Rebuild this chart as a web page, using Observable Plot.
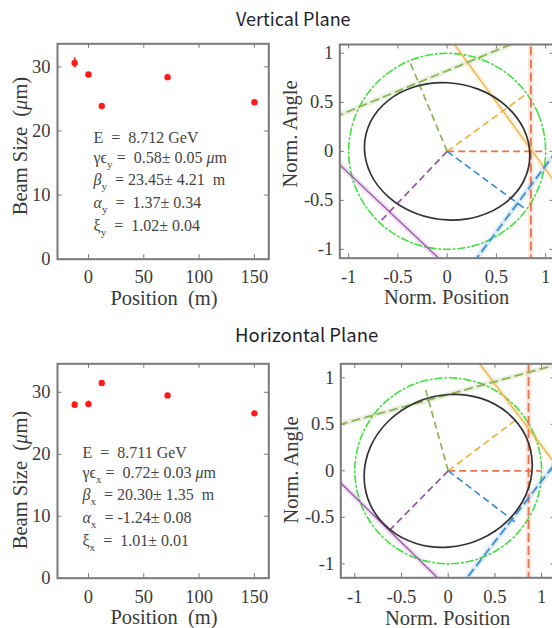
<!DOCTYPE html>
<html><head><meta charset="utf-8">
<script src="https://cdn.jsdelivr.net/npm/d3@7"></script>
<script src="https://cdn.jsdelivr.net/npm/@observablehq/plot@0.6"></script>
<style>
html,body{margin:0;padding:0;background:#fff;}
#page{position:relative;width:552px;height:628px;overflow:hidden;background:#fff;}
</style></head><body><div id="page"></div><script>
// ---------- data ----------
const titles = ["Vertical Plane", "Horizontal Plane"];
const positions = [-12.5, 0, 12, 71.5, 150];            // screen position (m)
const vSizes = [30.6, 28.8, 23.9, 28.4, 24.5];          // vertical beam size (µm)
const vErrs  = [0.8, 0.3, 0.3, 0.4, 0.25];
const hSizes = [28.0, 28.1, 31.5, 29.5, 26.6];          // horizontal beam size (µm)
const hErrs  = [0.5, 0.5, 0.4, 0.3, 0.2];
const posTicks = [0, 50, 100, 150];
const sizeTicks = [0, 10, 20, 30];
const normTicks = [-1, -0.5, 0, 0.5, 1];

const vAnnot = [
  [["E  =  8.712 GeV"]],
  [["γϵ"], ["y", "s"], [" =  0.58± 0.05 "], ["μ", "i"], ["m"]],
  [["β", "i"], ["y", "s"], ["  = 23.45± 4.21  m"]],
  [["α", "i"], ["y", "s"], ["  =  1.37± 0.34"]],
  [["ξ"], ["y", "s"], ["  =  1.02± 0.04"]]
];
const hAnnot = [
  [["E  =  8.711 GeV"]],
  [["γϵ"], ["x", "s"], [" =  0.72± 0.03 "], ["μ", "i"], ["m"]],
  [["β", "i"], ["x", "s"], ["  = 20.30± 1.35  m"]],
  [["α", "i"], ["x", "s"], ["  = -1.24± 0.08"]],
  [["ξ"], ["x", "s"], ["  =  1.01± 0.01"]]
];

// phase space: screens (red, orange, green, blue, purple)
const screenColors = ["#e5744e", "#f0b23e", "#8db356", "#3b8dd4", "#9a52a8"];
const screenDashed = [true, false, true, true, false];
const vPhase  = [0, 36, 112.5, -36.5, 226.5];   // deg
const vBeam   = [0.85, 0.70, 0.76, 0.89, 0.85]; // normalized beam size
const vRadial = [1.0, 1.0, 1.0, 1.0, 0.99];
const hPhase  = [0, 37, 105.5, -37.5, 225.5];
const hBeam   = [0.86, 0.96, 0.79, 0.86, 0.90];
const hRadial = [1.0, 0.9, 0.92, 0.91, 0.9];

const vEllX = [0.84, 0.776, 0.594, 0.321, 0, -0.321, -0.594, -0.776, -0.84, -0.776, -0.594, -0.321, 0, 0.321, 0.594, 0.776];
const vEllY = [-0.04, 0.231, 0.467, 0.632, 0.70, 0.662, 0.523, 0.305, 0.04, -0.231, -0.467, -0.632, -0.70, -0.662, -0.523, -0.305];
const hEllX = [0.90, 0.832, 0.636, 0.344, 0, -0.344, -0.636, -0.832, -0.90, -0.832, -0.636, -0.344, 0, 0.344, 0.636, 0.832];
const hEllY = [0.06, 0.369, 0.622, 0.781, 0.82, 0.735, 0.538, 0.259, -0.06, -0.369, -0.622, -0.781, -0.82, -0.735, -0.538, -0.259];
// unit (design) circle
const circX = [1, 0.924, 0.707, 0.383, 0, -0.383, -0.707, -0.924, -1, -0.924, -0.707, -0.383, 0, 0.383, 0.707, 0.924];
const circY = [0, 0.383, 0.707, 0.924, 1, 0.924, 0.707, 0.383, 0, -0.383, -0.707, -0.924, -1, -0.924, -0.707, -0.383];

// ---------- helpers ----------
const serif = "'Liberation Serif','Times New Roman',serif";
const page = document.getElementById("page");
function place(node, left, top) {
  node.style.position = "absolute"; node.style.left = left + "px"; node.style.top = top + "px";
  page.appendChild(node);
}
function richText(sel, x, y, pieces, {size = 16, anchor = "start", rotate = 0, fill = "#333", family = serif} = {}) {
  const t = sel.append("text").attr("x", x).attr("y", y)
    .attr("font-family", family).attr("font-size", size).attr("fill", fill)
    .attr("text-anchor", anchor).style("white-space", "pre");
  if (rotate) t.attr("transform", `rotate(${rotate},${x},${y})`);
  let shifted = false; const sh = size * 0.32;
  for (const [s, st = ""] of pieces) {
    const ts = t.append("tspan").text(s);
    if (st.includes("i")) ts.attr("font-style", "italic");
    const sub = st.includes("s");
    if (sub) ts.attr("font-size", size * 0.7);
    if (sub && !shifted) { ts.attr("dy", sh); shifted = true; }
    else if (!sub && shifted) { ts.attr("dy", -sh); shifted = false; }
  }
  return t;
}
const lineOffsets = [0, 20, 42, 65, 88];

function beamPlot({sizes, errs, yMax, height, mt, mb, tickPad, annot, annotAt, ylabelY, xlabelY}) {
  const width = 276, ml = 57, mr = 7.7;
  const fw = width - ml - mr, fh = height - mt - mb;
  const data = positions.map((p, i) => ({p, s: sizes[i], e: errs[i]}));
  const gray = "#7a7a7a";
  const plot = Plot.plot({
    width, height, marginLeft: ml, marginRight: mr, marginTop: mt, marginBottom: mb,
    x: {domain: [-28, 163]}, y: {domain: [0, yMax]},
    style: {fontFamily: serif, fontSize: "18.5px", color: "#3a3a3a", background: "none", overflow: "visible"},
    marks: [
      Plot.axisX({ticks: posTicks, tickSize: 0, tickPadding: tickPad, tickFormat: d => String(d), label: null, fontSize: 18.5}),
      Plot.axisY({ticks: sizeTicks, tickSize: 0, tickPadding: 7, tickFormat: d => String(d), label: null, fontSize: 18.5}),
      Plot.tickX(posTicks, {x: d => d, insetTop: fh - 4.5, stroke: gray}),
      Plot.tickX(posTicks, {x: d => d, insetBottom: fh - 4.5, stroke: gray}),
      Plot.tickY(sizeTicks, {y: d => d, insetRight: fw - 4.5, stroke: gray}),
      Plot.tickY(sizeTicks, {y: d => d, insetLeft: fw - 4.5, stroke: gray}),
      Plot.ruleX(data, {x: "p", y1: d => d.s - d.e, y2: d => d.s + d.e, stroke: "#ff1a1a", strokeWidth: 1.6}),
      Plot.dot(data, {x: "p", y: "s", r: 3.2, fill: "#ff1a1a"}),
      Plot.frame({stroke: gray, strokeWidth: 2})
    ]
  });
  const sel = d3.select(plot);
  const sx = plot.scale("x"), sy = plot.scale("y");
  annot.forEach((line, i) => richText(sel, sx.apply(annotAt[0]), sy.apply(annotAt[1]) + lineOffsets[i], line, {size: 16, fill: "#444"}));
  richText(sel, 27.2, ylabelY, [["Beam Size  ("], ["μ", "i"], ["m)"]], {size: 20.5, anchor: "middle", rotate: -90, fill: "#3a3a3a"});
  richText(sel, 164, xlabelY, [["Position  (m)"]], {size: 20.5, anchor: "middle", fill: "#3a3a3a"});
  return plot;
}

function phasePlot({phase, beam, radial, ellX, ellY, dom, height, mt, mb, ml, mr, tickPad, ylabelX, ylabelY, xlabelY}) {
  const width = 282;
  const fw = width - ml - mr, fh = height - mt - mb;
  const gray = "#7a7a7a";
  const circle = circX.map((x, i) => ({x, y: circY[i]}));
  const ell = ellX.map((x, i) => ({x, y: ellY[i]}));
  const marks = [
    Plot.axisX({ticks: normTicks, tickSize: 0, tickPadding: tickPad, tickFormat: d => String(d), label: null, fontSize: 18.5}),
    Plot.axisY({ticks: normTicks, tickSize: 0, tickPadding: 6.6, tickFormat: d => String(d), label: null, fontSize: 18.5}),
    Plot.tickX(normTicks, {x: d => d, insetTop: fh - 4.5, stroke: gray}),
    Plot.tickX(normTicks, {x: d => d, insetBottom: fh - 4.5, stroke: gray}),
    Plot.tickY(normTicks, {y: d => d, insetRight: fw - 4.5, stroke: gray}),
    Plot.tickY(normTicks, {y: d => d, insetLeft: fw - 4.5, stroke: gray}),
    Plot.line(circle, {x: "x", y: "y", curve: "catmull-rom-closed", stroke: "#3fe33f", strokeWidth: 1.6, strokeDasharray: "7,3,1.5,3"})
  ];
  phase.forEach((a, i) => {
    const r = a * Math.PI / 180, c = Math.cos(r), s = Math.sin(r), d = beam[i], L = radial[i];
    const color = screenColors[i];
    const seg = [{x1: d * c + 3 * s, y1: d * s - 3 * c, x2: d * c - 3 * s, y2: d * s + 3 * c}];
    const rad = [{x1: 0, y1: 0, x2: L * c, y2: L * s}];
    marks.push(
      Plot.link(rad, {x1: "x1", y1: "y1", x2: "x2", y2: "y2", stroke: color, strokeWidth: 1.7, strokeDasharray: "7,4", clip: true}),
      Plot.link(seg, {x1: "x1", y1: "y1", x2: "x2", y2: "y2", stroke: color, strokeWidth: 5.5, strokeOpacity: 0.17, clip: true}),
      Plot.link(seg, {x1: "x1", y1: "y1", x2: "x2", y2: "y2", stroke: color, strokeWidth: screenDashed[i] ? 1.8 : 1.3,
        strokeDasharray: screenDashed[i] ? "9,4" : null, clip: true})
    );
  });
  marks.push(
    Plot.line(ell, {x: "x", y: "y", curve: "catmull-rom-closed", stroke: "#333", strokeWidth: 1.7}),
    Plot.frame({stroke: gray, strokeWidth: 2})
  );
  const plot = Plot.plot({
    width, height, marginLeft: ml, marginRight: mr, marginTop: mt, marginBottom: mb,
    x: {domain: [-dom, dom]}, y: {domain: [-dom, dom]},
    style: {fontFamily: serif, fontSize: "18.5px", color: "#3a3a3a", background: "none", overflow: "visible"},
    marks
  });
  const sel = d3.select(plot);
  richText(sel, ylabelX, ylabelY, [["Norm. Angle"]], {size: 20.5, anchor: "middle", rotate: -90, fill: "#3a3a3a"});
  richText(sel, ml + fw / 2, xlabelY, [["Norm. Position"]], {size: 20.5, anchor: "middle", fill: "#3a3a3a"});
  return plot;
}

// ---------- build ----------
const tl = beamPlot({sizes: vSizes, errs: vErrs, yMax: 33.6, height: 280, mt: 13.3, mb: 51.3, tickPad: 11,
  annot: vAnnot, annotAt: [5, 18.05], ylabelY: 116, xlabelY: 275});
place(tl, 0, 30);
const tr = phasePlot({phase: vPhase, beam: vBeam, radial: vRadial, ellX: vEllX, ellY: vEllY, dom: 1.09,
  height: 280, mt: 14, mb: 52.3, ml: 63.3, mr: 4, tickPad: 12, ylabelX: 20.5, ylabelY: 104, xlabelY: 274});
place(tr, 276, 30);
const bl = beamPlot({sizes: hSizes, errs: hErrs, yMax: 34.6, height: 288, mt: 23.3, mb: 50.3, tickPad: 12,
  annot: hAnnot, annotAt: [-5, 19.3], ylabelY: 140, xlabelY: 284});
place(bl, 0, 340);
const br = phasePlot({phase: hPhase, beam: hBeam, radial: hRadial, ellX: hEllX, ellY: hEllY, dom: 1.15,
  height: 288, mt: 23.3, mb: 50.7, ml: 64.3, mr: 2.9, tickPad: 12.4, ylabelX: 22, ylabelY: 130, xlabelY: 285});
place(br, 276, 340);

// titles
const ts = d3.create("svg").attr("width", 552).attr("height", 628).style("pointer-events", "none");
const tf = "'Noto Sans CJK KR','Noto Sans',sans-serif";
ts.append("text").attr("x", 236).attr("y", 25.5).attr("font-family", tf).attr("font-size", 18).attr("fill", "#1f1f2a").text(titles[0]);
ts.append("text").attr("x", 235).attr("y", 341.5).attr("font-family", tf).attr("font-size", 18.5).attr("fill", "#1f1f2a").text(titles[1]);
place(ts.node(), 0, 0);
</script></body></html>
